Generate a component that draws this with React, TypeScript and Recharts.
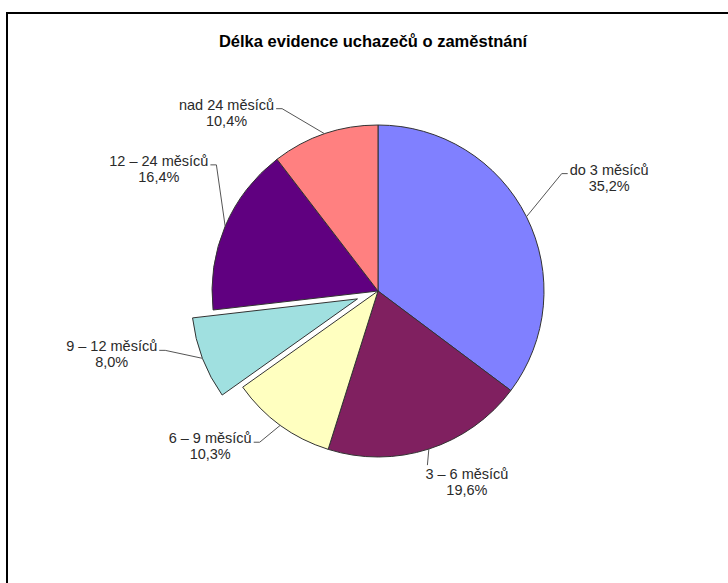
import { PieChart, Pie, Cell } from 'recharts'

const TITLE = 'Délka evidence uchazečů o zaměstnání'
const SLICE_NAMES = ['do 3 měsíců', '3 – 6 měsíců', '6 – 9 měsíců', '9 – 12 měsíců', '12 – 24 měsíců', 'nad 24 měsíců']
const SLICE_SHARES = [35.2, 19.6, 10.3, 8.0, 16.4, 10.4]
const SLICE_COLORS = ['#8080ff', '#802060', '#ffffc0', '#a0e0e0', '#600080', '#ff8080']
const EXPLODED_INDEX = 3

const data = SLICE_NAMES.map((name, i) => ({ name, value: SLICE_SHARES[i] }))

const CX = 378
const CY = 291
const R = 166
const EXPLODE = 22
const RAD = Math.PI / 180
const LABEL_FONT = '14.5px "Liberation Sans", Arial, sans-serif'

// leader line per slice: [angle nudge (deg, clockwise), length beyond the rim]
const LEADERS = [
  [-6, 52],
  [2, 15],
  [2, 26],
  [6, 33],
  [15, 39],
  [-9, 40],
]

let ctx: CanvasRenderingContext2D | null = null
function textWidth(s: string) {
  if (!ctx) ctx = document.createElement('canvas').getContext('2d')
  if (!ctx) return s.length * 7
  ctx.font = LABEL_FONT
  return ctx.measureText(s).width
}

// centre of the pulled-out slice
const total = SLICE_SHARES.reduce((a, b) => a + b, 0)
const before = SLICE_SHARES.slice(0, EXPLODED_INDEX).reduce((a, b) => a + b, 0)
const explodeMid = ((before + SLICE_SHARES[EXPLODED_INDEX] / 2) / total) * 360
const ECX = CX + EXPLODE * Math.sin(explodeMid * RAD)
const ECY = CY - EXPLODE * Math.cos(explodeMid * RAD)

function makeLabel(show: (i: number) => boolean) {
  return (props: any) => {
    const { cx, cy, midAngle, outerRadius, index, value } = props
    if (!show(index)) return null
    const name = props.payload?.name ?? props.name
    const [nudge, ext] = LEADERS[index]
    const a0 = -midAngle * RAD
    const sx = cx + outerRadius * Math.cos(a0)
    const sy = cy + outerRadius * Math.sin(a0)
    const a1 = -(midAngle - nudge) * RAD
    const ex = cx + (outerRadius + ext) * Math.cos(a1)
    const ey = cy + (outerRadius + ext) * Math.sin(a1)
    const line1 = name
    const line2 = Number(value).toFixed(1).replace('.', ',') + '%'
    const w = textWidth(line1)
    const cw = (((90 - midAngle) % 360) + 360) % 360
    let d: string
    let tx: number
    let ty: number
    if (cw > 150 && cw < 210) {
      d = `M${sx},${sy}L${ex},${ey}`
      tx = ex - 2 + w / 2
      ty = ey + 14
    } else if (cw < 180) {
      d = `M${sx},${sy}L${ex},${ey}L${ex + 6},${ey}`
      tx = ex + 8 + w / 2
      ty = ey + 1
    } else {
      d = `M${sx},${sy}L${ex},${ey}L${ex - 6},${ey}`
      tx = ex - 8 - w / 2
      ty = ey + 1
    }
    return (
      <g key={`lbl-${index}`}>
        <path d={d} stroke="#555" strokeWidth={1} fill="none" />
        <text x={tx} y={ty} textAnchor="middle" fill="#2a2a2a" style={{ font: LABEL_FONT }}>
          <tspan x={tx}>{line1}</tspan>
          <tspan x={tx} dy={16}>{line2}</tspan>
        </text>
      </g>
    )
  }
}

export default function App() {
  return (
    <div style={{ position: 'absolute', left: 0, top: 0, width: 728, height: 583, background: '#fff', overflow: 'hidden' }}>
      <div
        style={{
          position: 'absolute',
          left: 6,
          top: 12,
          width: 722,
          height: 571,
          borderTop: '2px solid #000',
          borderLeft: '2px solid #000',
          boxSizing: 'border-box',
        }}
      />
      <svg width={728} height={583} style={{ position: 'absolute', left: 0, top: 0 }}>
        <text
          x={373}
          y={47}
          textAnchor="middle"
          fill="#000"
          style={{ font: 'bold 16.5px "Liberation Sans", Arial, sans-serif' }}
        >
          {TITLE}
        </text>
      </svg>
      <div style={{ position: 'absolute', left: 0, top: 0 }}>
        <PieChart width={728} height={583} margin={{ top: 0, right: 0, bottom: 0, left: 0 }}>
          <Pie
            data={data}
            dataKey="value"
            nameKey="name"
            cx={CX}
            cy={CY}
            outerRadius={R}
            startAngle={90}
            endAngle={-270}
            stroke="#333"
            strokeWidth={1}
            label={makeLabel((i) => i !== EXPLODED_INDEX)}
            labelLine={false}
            isAnimationActive={false}
          >
            {data.map((d, i) => (
              <Cell
                key={d.name}
                fill={i === EXPLODED_INDEX ? 'none' : SLICE_COLORS[i]}
                stroke={i === EXPLODED_INDEX ? 'none' : '#333'}
              />
            ))}
          </Pie>
          <Pie
            data={data}
            dataKey="value"
            nameKey="name"
            cx={ECX}
            cy={ECY}
            outerRadius={R}
            startAngle={90}
            endAngle={-270}
            stroke="#333"
            strokeWidth={1}
            label={makeLabel((i) => i === EXPLODED_INDEX)}
            labelLine={false}
            isAnimationActive={false}
          >
            {data.map((d, i) => (
              <Cell
                key={d.name}
                fill={i === EXPLODED_INDEX ? SLICE_COLORS[i] : 'none'}
                stroke={i === EXPLODED_INDEX ? '#333' : 'none'}
              />
            ))}
          </Pie>
        </PieChart>
      </div>
    </div>
  )
}
